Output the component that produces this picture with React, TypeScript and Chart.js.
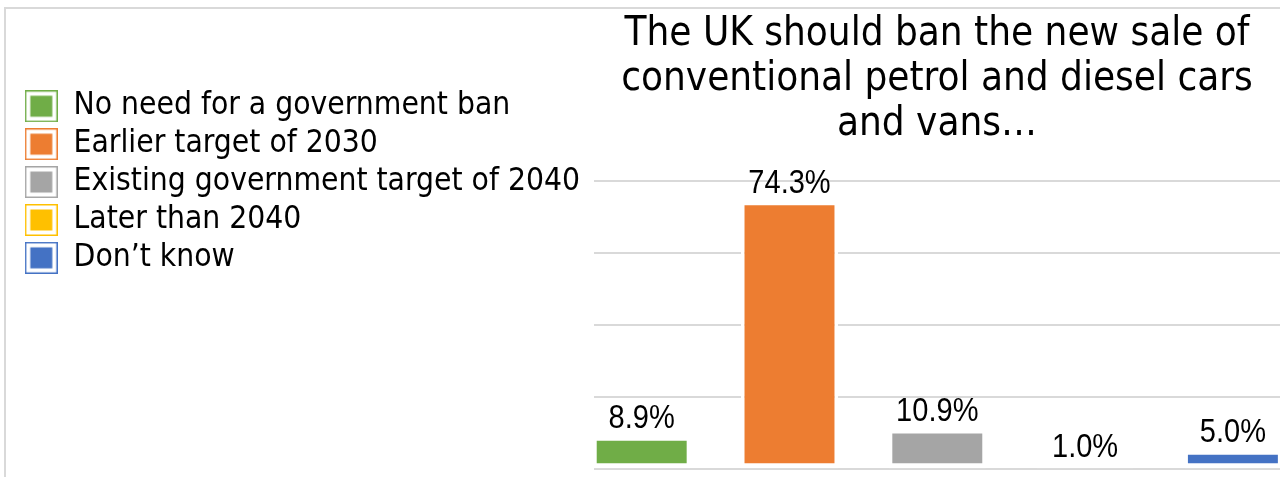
import React, { useEffect, useRef } from "react";
import { Chart, registerables } from "chart.js";

Chart.register(...registerables);

const CATEGORIES = [
  "No need for a government ban",
  "Earlier target of 2030",
  "Existing government target of 2040",
  "Later than 2040",
  "Don\u2019t know",
];
const VALUES = [8.9, 74.3, 10.9, 1.0, 5.0];
const COLORS = ["#70AD47", "#ED7D31", "#A5A5A5", "#FFC000", "#4472C4"];
const TITLE_LINES = [
  "The UK should ban the new sale of",
  "conventional petrol and diesel cars",
  "and vans\u2026",
];
const Y_TICKS = [0, 20, 40, 60, 80];

const HUMANIST = "'DejaVu Sans Condensed', 'DejaVu Sans', sans-serif";
const LABEL_FONT = "'Liberation Sans', Arial, sans-serif";

function makeMarker(color: string): HTMLCanvasElement {
  const c = document.createElement("canvas");
  c.width = 33;
  c.height = 32;
  const ctx = c.getContext("2d")!;
  ctx.fillStyle = color;
  ctx.fillRect(0, 0, 33, 32);
  ctx.fillStyle = "#ffffff";
  ctx.fillRect(1.5, 1.5, 30, 29);
  ctx.fillStyle = color;
  ctx.fillRect(5.5, 5.5, 22, 21);
  return c;
}

const valueLabels = {
  id: "valueLabels",
  afterDatasetsDraw(chart: any) {
    const ctx = chart.ctx;
    const meta = chart.getDatasetMeta(0);
    meta.data.forEach((bar: any, i: number) => {
      ctx.save();
      ctx.translate(bar.x, bar.y - 9);
      ctx.scale(0.88, 1);
      ctx.font = `33px ${LABEL_FONT}`;
      ctx.fillStyle = "#000";
      ctx.textAlign = "center";
      ctx.textBaseline = "alphabetic";
      ctx.fillText(VALUES[i].toFixed(1) + "%", 0, 0);
      ctx.restore();
    });
  },
};

export default function App() {
  const ref = useRef<HTMLCanvasElement>(null);
  useEffect(() => {
    if (!ref.current) return;
    const markers = COLORS.map(makeMarker);
    const chart = new Chart(ref.current, {
      type: "bar",
      data: {
        datasets: [
          {
            data: VALUES.map((v, i) => ({ x: i, y: v })) as any,
            backgroundColor: COLORS,
            borderColor: "#ffffff",
            borderWidth: { top: 3.5, left: 3.5, right: 3.5, bottom: 5 } as any,
            borderSkipped: false,
            categoryPercentage: 1,
            barPercentage: 0.656,
          },
        ],
      },
      plugins: [valueLabels],
      options: {
        animation: false,
        responsive: false,
        devicePixelRatio: 1,
        layout: { padding: { top: 84.1, left: 18.4, right: 0, bottom: 7.7 } },
        scales: {
          x: {
            type: "linear",
            display: false,
            offset: false,
            min: -0.3227,
            max: 4.3187,
            afterBuildTicks: (s: any) => {
              s.ticks = CATEGORIES.map((_, i) => ({ value: i }));
            },
            grid: { display: false },
          },
          y: {
            min: 0,
            max: 80,
            afterBuildTicks: (s: any) => {
              s.ticks = Y_TICKS.map((v) => ({ value: v }));
            },
            afterFit: (s: any) => {
              const lg = s.chart.legend;
              const used = 18.4 + (lg && lg.width ? lg.width : 0);
              s.width = Math.max(0, 594 - used);
            },
            ticks: { display: false },
            grid: { color: "#d9d9d9", lineWidth: 2, drawTicks: false },
            border: { display: false },
          },
        },
        plugins: {
          tooltip: { enabled: false },
          title: {
            display: true,
            text: TITLE_LINES,
            position: "top",
            fullSize: false,
            align: "center",
            color: "#000",
            font: { family: HUMANIST, size: 40, lineHeight: 1.125, weight: "normal" },
            padding: { top: -71.6, bottom: 33.8 },
          },
          legend: {
            display: true,
            position: "left",
            align: "start",
            maxWidth: 700,
            labels: {
              usePointStyle: true,
              pointStyleWidth: 33,
              padding: 6.4,
              color: "#000",
              font: { family: HUMANIST, size: 31.5 },
              generateLabels: () =>
                CATEGORIES.map((text, i) => ({
                  text,
                  fillStyle: COLORS[i],
                  strokeStyle: COLORS[i],
                  lineWidth: 0,
                  pointStyle: markers[i] as any,
                  hidden: false,
                  index: i,
                  datasetIndex: 0,
                  fontColor: "#000",
                })),
            },
          },
        },
      } as any,
    });
    return () => chart.destroy();
  }, []);

  return (
    <div
      style={{
        position: "fixed",
        left: 0,
        top: 0,
        width: 1280,
        height: 477,
        overflow: "hidden",
        background: "#fff",
      }}
    >
      <div
        style={{
          position: "absolute",
          left: 4,
          top: 7,
          right: -20,
          bottom: -20,
          borderTop: "2px solid #d9d9d9",
          borderLeft: "2.5px solid #d9d9d9",
        }}
      />
      <canvas
        ref={ref}
        width={1280}
        height={477}
        style={{ position: "absolute", left: 0, top: 0, width: 1280, height: 477 }}
      />
    </div>
  );
}
